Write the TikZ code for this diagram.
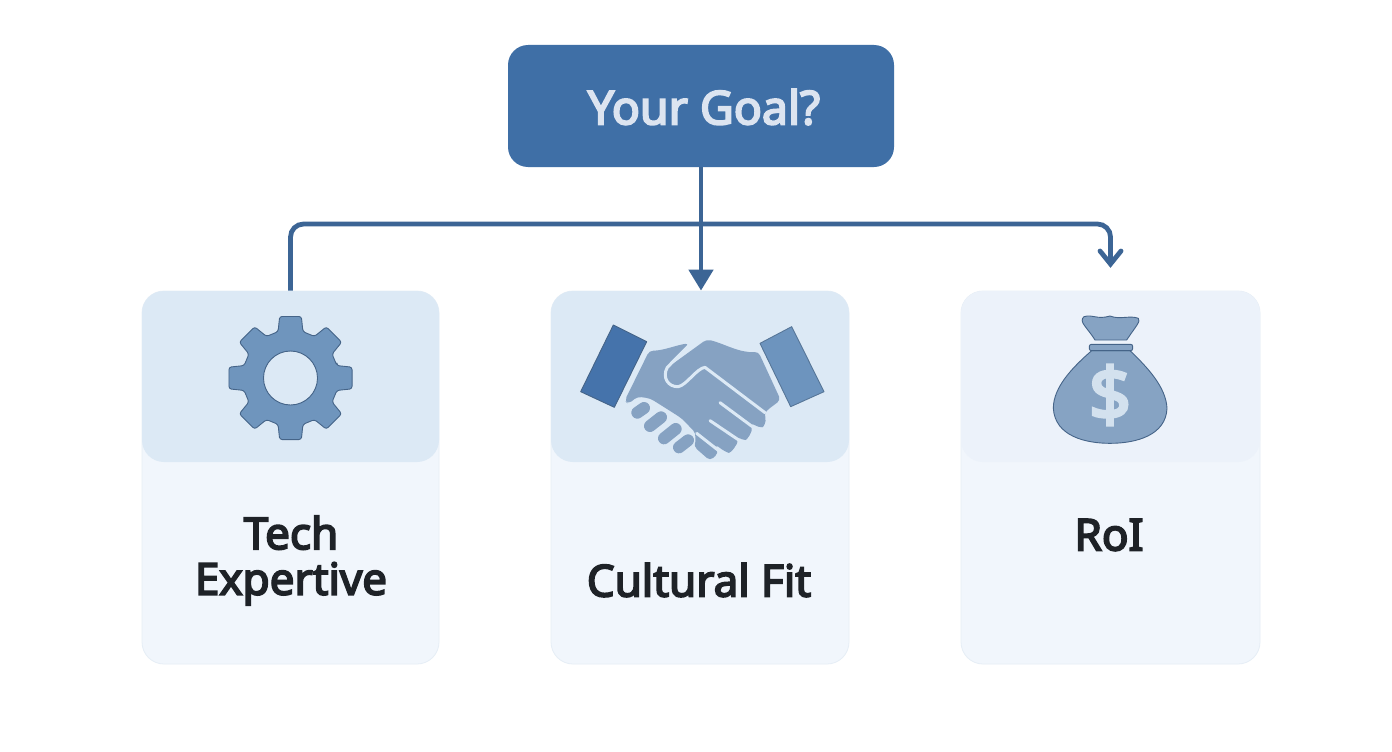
\documentclass[tikz,border=0pt]{standalone}
\usepackage{fontspec}
\setmainfont{Noto Sans}
\newfontfamily\lab[FakeBold=4]{Noto Sans}
\newfontfamily\titlef[FakeBold=4]{Noto Sans}
\newfontfamily\dollarf[FakeBold=4]{Noto Sans}
\usetikzlibrary{arrows.meta}
\definecolor{goalblue}{HTML}{3F6FA6}
\definecolor{goaltext}{HTML}{DCE4F0}
\definecolor{wire}{HTML}{3C6595}
\definecolor{headA}{HTML}{DCE9F5}
\definecolor{headC}{HTML}{ECF2FA}
\definecolor{cardbody}{HTML}{F1F6FC}
\definecolor{cardedge}{HTML}{E6EEF6}
\definecolor{ink}{HTML}{1E2227}
\definecolor{gearblue}{HTML}{6F95BD}
\definecolor{handblue}{HTML}{86A2C2}
\definecolor{cuffdark}{HTML}{4573AB}
\definecolor{cufflight}{HTML}{6D94BE}
\definecolor{bagblue}{HTML}{86A3C3}
\definecolor{iconedge}{HTML}{456488}
\definecolor{dollar}{HTML}{D3E1EE}
\tikzset{
  goalbox/.style={draw=none,fill=goalblue,rounded corners=20pt,minimum width=386pt,minimum height=122pt,inner sep=0pt},
  cardbox/.style={draw=cardedge,line width=0.8pt,fill=cardbody,rounded corners=22pt,minimum height=373pt,inner sep=0pt},
  headbox/.style={draw=none,rounded corners=22pt,minimum height=171pt,inner sep=0pt},
  labeltext/.style={font=\lab\fontsize{44}{45.5}\selectfont,text=ink,align=center,inner sep=0pt},
  wireline/.style={draw=wire,line width=4.8pt},
  iconline/.style={draw=iconedge,line width=0.9pt,line join=round},
  gapline/.style={draw=headA,line width=3pt,line cap=round,line join=round},
  fingergap/.style={draw=headA,line width=15pt,line cap=round},
  fingercap/.style={draw=handblue,line width=12pt,line cap=round},
}
\begin{document}
\begin{tikzpicture}[x=1pt,y=-1pt]
\useasboundingbox (0,0) rectangle (1392,752);
\fill[white] (0,0) rectangle (1392,752);

% cards
\node[cardbox,minimum width=297pt] (tech) at (290.5,477.5) {};
\node[headbox,fill=headA,minimum width=297pt] (techhead) at (290.5,376.5) {};
\node[cardbox,minimum width=298pt] (culture) at (700,477.5) {};
\node[headbox,fill=headA,minimum width=298pt] (culturehead) at (700,376.5) {};
\node[cardbox,minimum width=299pt] (roi) at (1110.5,477.5) {};
\node[headbox,fill=headC,minimum width=299pt] (roihead) at (1110.5,376.5) {};

% goal
\node[goalbox] (goal) at (701,106) {};
\node[font=\titlef\fontsize{46.5}{50}\selectfont,text=goaltext,inner sep=0pt] (goaltitle) at (704,107) {Your Goal?};

% labels
\node[labeltext] (techlabel) at (291,560.5) {Tech\\Expertive};
\node[labeltext] (culturelabel) at (699,580) {Cultural Fit};
\node[labeltext] (roilabel) at (1109,535) {RoI};

% connectors
\coordinate (bus) at (701,224);
\coordinate (roitip) at (1110.5,264);
\draw[wireline,-{Triangle[length=21pt,width=24pt]}] (goal.south) -- (goal.south |- culture.north);
\draw[wireline,rounded corners=13pt,line cap=butt] (tech.north) -- (tech.north |- bus) -- (roi.north |- bus) -- (roitip);
\draw[wireline,line cap=round,line join=miter] (1100,251) -- (roitip) -- (1121,251);

% gear
\begin{scope}[shift={(290.5,378)}]
\draw[iconline,fill=gearblue,even odd rule,rounded corners=2.5pt]
  (-15:48) \foreach \a in {0,45,...,315}{ -- (\a-15:48) -- (\a-10:62.5) -- (\a+10:62.5) -- (\a+15:48)} -- cycle
  [sharp corners] (0,0) circle (27);
\end{scope}

% handshake
\begin{scope}[shift={(550,290)},x=0.33333pt,y=-0.33333pt]
\draw[iconline,fill=cuffdark] (190,105) -- (290,155) -- (193,352) -- (92,305) -- cycle;
\draw[iconline,draw=cufflight!80!black,fill=cufflight] (630,160) -- (725,110) -- (822,305) -- (722,350) -- cycle;
% both hands
\fill[handblue,rounded corners=4pt]
  (298,182) .. controls (340,182) and (380,165) .. (418,160)
  -- (350,235) -- (470,148)
  .. controls (520,160) and (570,190) .. (625,185)
  -- (692,330) -- (652,360) -- (642,372)
  .. controls (650,395) and (640,412) .. (625,412)
  -- (602,398) .. controls (610,425) and (590,450) .. (575,450)
  -- (560,438) .. controls (565,465) and (540,490) .. (525,485)
  -- (495,463) -- (505,490) -- (480,512) -- (432,470)
  -- (438,430) -- (395,385) -- (340,350) -- (300,325) -- (262,320) -- (235,342) -- (224,332) -- cycle;
% light gaps
\draw[gapline] (420,163) -- (352,232) .. controls (335,262) and (355,292) .. (385,290)
  .. controls (410,285) and (440,235) .. (465,232) -- (645,368);
\draw[gapline] (510,338) -- (618,418);
\draw[gapline] (480,392) -- (578,458);
\draw[gapline] (440,430) -- (510,485);
% fingers on the left hand
\foreach \ax/\ay/\bx/\by in {262/368/282/354, 300/408/333/382, 342/445/377/417, 387/472/414/451}{
  \draw[fingergap] (\ax,\ay) -- (\bx,\by);
  \draw[fingercap] (\ax,\ay) -- (\bx,\by);
}
\end{scope}

% bag
\begin{scope}[shift={(960,210)},x=0.33333pt,y=-0.33333pt]
\draw[iconline,fill=bagblue] (372,320) .. controls (400,312) and (410,330) .. (450,318)
  .. controls (480,330) and (510,315) .. (535,325) .. controls (542,335) and (530,345) .. (500,390)
  -- (405,390) .. controls (380,350) and (355,335) .. (372,320) -- cycle;
\draw[iconline,fill=bagblue] (395,422) .. controls (340,470) and (280,530) .. (280,595)
  .. controls (285,680) and (380,700) .. (450,700)
  .. controls (530,700) and (618,675) .. (621,595)
  .. controls (618,530) and (560,470) .. (510,422) -- cycle;
\draw[iconline,fill=bagblue,rounded corners=2pt] (388,403) rectangle (518,422);
\node[font=\dollarf\fontsize{74}{74}\selectfont,text=dollar,inner sep=0pt] (dollarsign) at (450,555) {\$};
\end{scope}
\end{tikzpicture}
\end{document}
